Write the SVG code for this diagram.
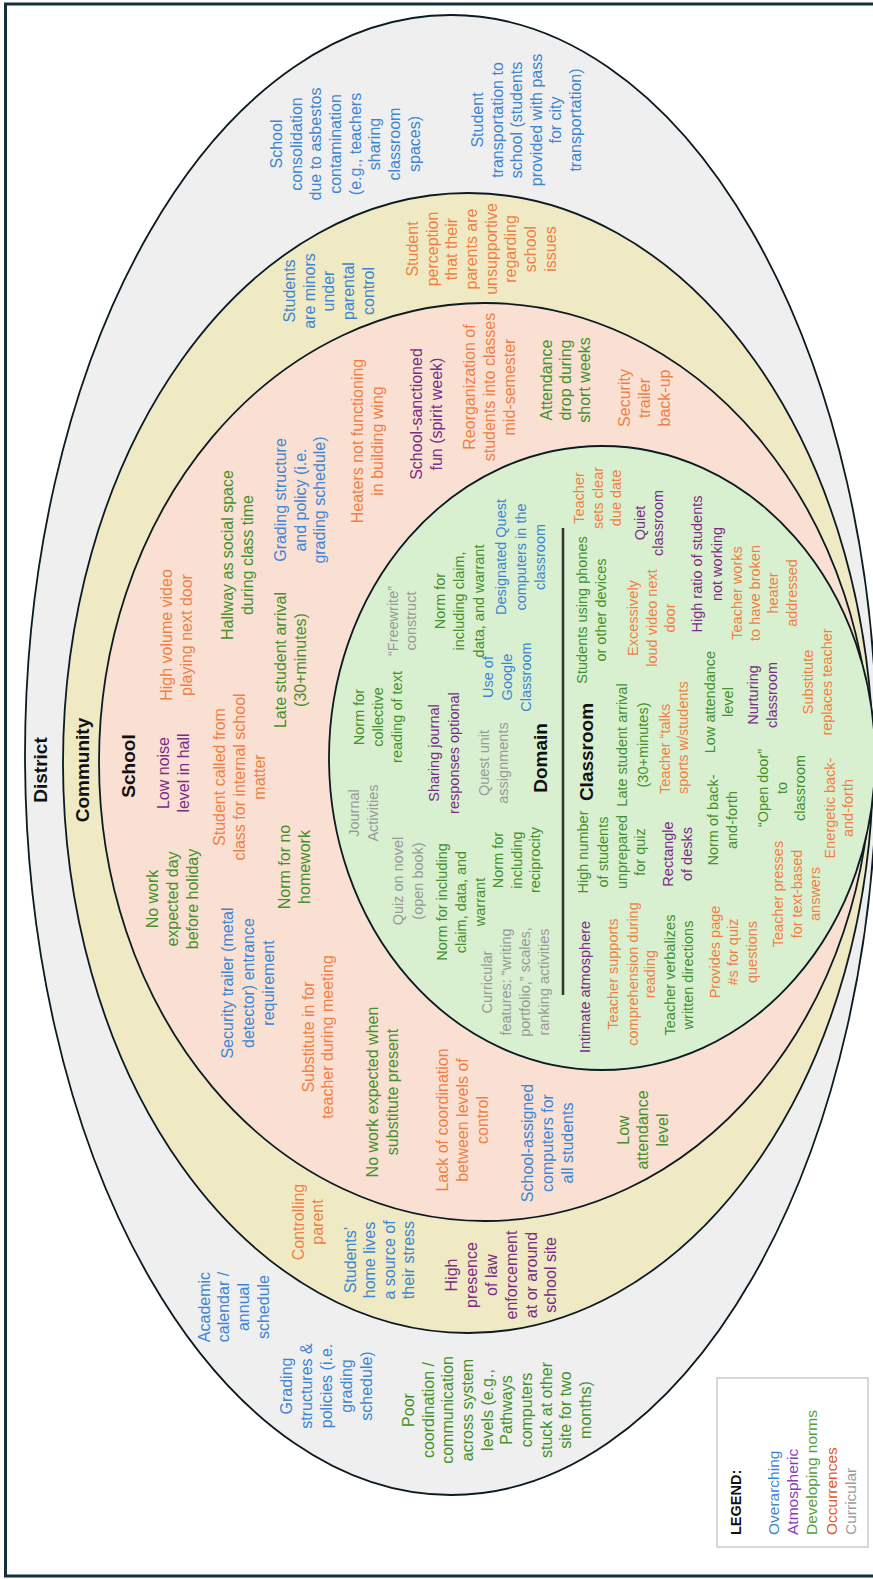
<svg xmlns="http://www.w3.org/2000/svg" width="873" height="1579" viewBox="0 0 873 1579">
<style>
  .ring{stroke:#0c1a22;stroke-width:1.8}
  .t{font-family:"Liberation Sans",Arial,sans-serif;font-size:16px;text-anchor:middle}
  .s{font-family:"Liberation Sans",Arial,sans-serif;font-size:14.5px;text-anchor:middle}
  .h{font-family:"Liberation Sans",Arial,sans-serif;font-size:19px;font-weight:bold;fill:#111;text-anchor:middle}
  .ov{fill:#3d86d3}
  .at{fill:#7a2d86}
  .dn{fill:#44912c}
  .oc{fill:#f07f45}
  .cu{fill:#999999}
  .lg{font-family:"Liberation Sans",Arial,sans-serif;font-size:15.5px;text-anchor:start}
</style>
<rect x="0" y="0" width="873" height="1579" fill="#ffffff"/>

<!-- nested levels: district, community, school, classroom/domain -->
<g id="rings">
  <ellipse id="ring-district" class="ring" cx="451" cy="755" rx="426" ry="740" fill="#efefef"/>
  <ellipse id="ring-community" class="ring" cx="468" cy="763" rx="405" ry="570" fill="#efeac4"/>
  <ellipse id="ring-school" class="ring" cx="485" cy="762" rx="386" ry="459" fill="#fae0d2"/>
  <ellipse id="ring-inner" class="ring" cx="602" cy="758" rx="273" ry="312" fill="#d9f0d0"/>
  <line id="divider" x1="563" y1="528" x2="563" y2="995" stroke="#333" stroke-width="2.5"/>
</g>

<!-- frame -->
<path d="M880 4 H5.5 V1576 H880" fill="none" stroke="#15303b" stroke-width="3"/>

<!-- legend box -->
<rect id="legend-box" x="717" y="1378" width="151" height="169" fill="#ffffff" stroke="#c4c4c4" stroke-width="1.3"/>

<!-- all labels are set sideways, reading upward -->
<g transform="translate(0 1579) rotate(-90)">
  <g id="headings">
    <text class="h" x="809" y="47">District</text>
    <text class="h" x="809" y="89">Community</text>
    <text class="h" x="813" y="135">School</text>
    <text class="h" x="821" y="547">Domain</text>
    <text class="h" x="827" y="593">Classroom</text>
  </g>

  <!-- district level -->
  <g id="n-consolidation"><text class="t ov"><tspan x="1435" y="282">School</tspan><tspan x="1435" y="302">consolidation</tspan><tspan x="1435" y="321">due to asbestos</tspan><tspan x="1435" y="341">contamination</tspan><tspan x="1435" y="361">(e.g., teachers</tspan><tspan x="1435" y="380">sharing</tspan><tspan x="1435" y="400">classroom</tspan><tspan x="1435" y="420">spaces)</tspan></text></g>
  <g id="n-transportation"><text class="t ov"><tspan x="1459" y="483">Student</tspan><tspan x="1459" y="503">transportation to</tspan><tspan x="1459" y="522">school (students</tspan><tspan x="1459" y="542">provided with pass</tspan><tspan x="1459" y="561">for city</tspan><tspan x="1459" y="581">transportation)</tspan></text></g>
  <g id="n-calendar"><text class="t ov"><tspan x="272" y="210">Academic</tspan><tspan x="272" y="229">calendar /</tspan><tspan x="272" y="249">annual</tspan><tspan x="272" y="269">schedule</tspan></text></g>
  <g id="n-grading-district"><text class="t ov"><tspan x="193" y="292">Grading</tspan><tspan x="193" y="312">structures &amp;</tspan><tspan x="193" y="332">policies (i.e.</tspan><tspan x="193" y="352">grading</tspan><tspan x="193" y="372">schedule)</tspan></text></g>
  <g id="n-poor-coordination"><text class="t dn"><tspan x="169" y="414">Poor</tspan><tspan x="169" y="434">coordination /</tspan><tspan x="169" y="453">communication</tspan><tspan x="169" y="473">across system</tspan><tspan x="169" y="493">levels (e.g.,</tspan><tspan x="169" y="512">Pathways</tspan><tspan x="169" y="532">computers</tspan><tspan x="169" y="552">stuck at other</tspan><tspan x="169" y="571">site for two</tspan><tspan x="169" y="591">months)</tspan></text></g>

  <!-- community level -->
  <g id="n-minors"><text class="t ov"><tspan x="1288" y="295">Students</tspan><tspan x="1288" y="315">are minors</tspan><tspan x="1288" y="334">under</tspan><tspan x="1288" y="354">parental</tspan><tspan x="1288" y="374">control</tspan></text></g>
  <g id="n-perception"><text class="t oc"><tspan x="1330" y="418">Student</tspan><tspan x="1330" y="438">perception</tspan><tspan x="1330" y="457">that their</tspan><tspan x="1330" y="477">parents are</tspan><tspan x="1330" y="497">unsupportive</tspan><tspan x="1330" y="516">regarding</tspan><tspan x="1330" y="536">school</tspan><tspan x="1330" y="556">issues</tspan></text></g>
  <g id="n-controlling"><text class="t oc"><tspan x="357" y="304">Controlling</tspan><tspan x="357" y="323">parent</tspan></text></g>
  <g id="n-home"><text class="t ov"><tspan x="319" y="356">Students’</tspan><tspan x="319" y="375">home lives</tspan><tspan x="319" y="395">a source of</tspan><tspan x="319" y="414">their stress</tspan></text></g>
  <g id="n-law"><text class="t at"><tspan x="304" y="457">High</tspan><tspan x="304" y="477">presence</tspan><tspan x="304" y="497">of law</tspan><tspan x="304" y="517">enforcement</tspan><tspan x="304" y="537">at or around</tspan><tspan x="304" y="556">school site</tspan></text></g>

  <!-- school level -->
  <g id="n-low-noise"><text class="t at"><tspan x="806" y="169">Low noise</tspan><tspan x="806" y="189">level in hall</tspan></text></g>
  <g id="n-video"><text class="t oc"><tspan x="944" y="172">High volume video</tspan><tspan x="944" y="192">playing next door</tspan></text></g>
  <g id="n-called"><text class="t oc"><tspan x="802" y="225">Student called from</tspan><tspan x="802" y="245">class for internal school</tspan><tspan x="802" y="265">matter</tspan></text></g>
  <g id="n-holiday"><text class="t dn"><tspan x="680" y="158">No work</tspan><tspan x="680" y="178">expected day</tspan><tspan x="680" y="198">before holiday</tspan></text></g>
  <g id="n-hallway"><text class="t dn"><tspan x="1024" y="233">Hallway as social space</tspan><tspan x="1024" y="253">during class time</tspan></text></g>
  <g id="n-late-school"><text class="t dn"><tspan x="919" y="286">Late student arrival</tspan><tspan x="919" y="306">(30+minutes)</tspan></text></g>
  <g id="n-grading-school"><text class="t ov"><tspan x="1079" y="286">Grading structure</tspan><tspan x="1079" y="306">and policy (i.e.</tspan><tspan x="1079" y="325">grading schedule)</tspan></text></g>
  <g id="n-heaters"><text class="t oc"><tspan x="1138" y="363">Heaters not functioning</tspan><tspan x="1138" y="383">in building wing</tspan></text></g>
  <g id="n-spirit"><text class="t at"><tspan x="1165" y="422">School-sanctioned</tspan><tspan x="1165" y="442">fun (spirit week)</tspan></text></g>
  <g id="n-reorg"><text class="t oc"><tspan x="1192" y="475">Reorganization of</tspan><tspan x="1192" y="495">students into classes</tspan><tspan x="1192" y="515">mid-semester</tspan></text></g>
  <g id="n-attendance-drop"><text class="t dn"><tspan x="1199" y="552">Attendance</tspan><tspan x="1199" y="571">drop during</tspan><tspan x="1199" y="590">short weeks</tspan></text></g>
  <g id="n-trailer-backup"><text class="t oc"><tspan x="1181" y="630">Security</tspan><tspan x="1181" y="650">trailer</tspan><tspan x="1181" y="670">back-up</tspan></text></g>
  <g id="n-trailer"><text class="t ov"><tspan x="596" y="233">Security trailer (metal</tspan><tspan x="596" y="254">detector) entrance</tspan><tspan x="596" y="274">requirement</tspan></text></g>
  <g id="n-homework"><text class="t dn"><tspan x="712" y="290">Norm for no</tspan><tspan x="712" y="310">homework</tspan></text></g>
  <g id="n-substitute-meeting"><text class="t oc"><tspan x="542" y="314">Substitute in for</tspan><tspan x="542" y="333">teacher during meeting</tspan></text></g>
  <g id="n-no-work-sub"><text class="t dn"><tspan x="487" y="378">No work expected when</tspan><tspan x="487" y="398">substitute present</tspan></text></g>
  <g id="n-lack"><text class="t oc"><tspan x="459" y="448">Lack of coordination</tspan><tspan x="459" y="468">between levels of</tspan><tspan x="459" y="488">control</tspan></text></g>
  <g id="n-computers"><text class="t ov"><tspan x="436" y="533">School-assigned</tspan><tspan x="436" y="553">computers for</tspan><tspan x="436" y="573">all students</tspan></text></g>
  <g id="n-low-attendance-school"><text class="t dn"><tspan x="449" y="629">Low</tspan><tspan x="449" y="648">attendance</tspan><tspan x="449" y="668">level</tspan></text></g>

  <!-- domain -->
  <g id="n-journal"><text class="s cu"><tspan x="766" y="359">Journal</tspan><tspan x="766" y="378">Activities</tspan></text></g>
  <g id="n-collective"><text class="s dn"><tspan x="862" y="364">Norm for</tspan><tspan x="862" y="383">collective</tspan><tspan x="862" y="402">reading of text</tspan></text></g>
  <g id="n-freewrite"><text class="s cu"><tspan x="958" y="398">“Freewrite”</tspan><tspan x="958" y="416">construct</tspan></text></g>
  <g id="n-claim-a"><text class="s dn"><tspan x="978" y="445">Norm for</tspan><tspan x="978" y="464">including claim,</tspan><tspan x="978" y="484">data, and warrant</tspan></text></g>
  <g id="n-quest-computers"><text class="s ov"><tspan x="1022" y="506">Designated Quest</tspan><tspan x="1022" y="526">computers in the</tspan><tspan x="1022" y="545">classroom</tspan></text></g>
  <g id="n-google"><text class="s ov"><tspan x="902" y="493">Use of</tspan><tspan x="902" y="512">Google</tspan><tspan x="902" y="531">Classroom</tspan></text></g>
  <g id="n-sharing"><text class="s at"><tspan x="826" y="439">Sharing journal</tspan><tspan x="826" y="459">responses optional</tspan></text></g>
  <g id="n-quest-unit"><text class="s cu"><tspan x="816" y="489">Quest unit</tspan><tspan x="816" y="508">assignments</tspan></text></g>
  <g id="n-quiz-novel"><text class="s cu"><tspan x="698" y="403">Quiz on novel</tspan><tspan x="698" y="423">(open book)</tspan></text></g>
  <g id="n-claim-b"><text class="s dn"><tspan x="677" y="447">Norm for including</tspan><tspan x="677" y="466">claim, data, and</tspan><tspan x="677" y="485">warrant</tspan></text></g>
  <g id="n-reciprocity"><text class="s dn"><tspan x="719" y="503">Norm for</tspan><tspan x="719" y="522">including</tspan><tspan x="719" y="540">reciprocity</tspan></text></g>
  <g id="n-curricular"><text class="s cu"><tspan x="597" y="492">Curricular</tspan><tspan x="597" y="511">features: “writing</tspan><tspan x="597" y="530">portfolio,” scales,</tspan><tspan x="597" y="549">ranking activities</tspan></text></g>

  <!-- classroom -->
  <g id="n-phones"><text class="s dn"><tspan x="969" y="587">Students using phones</tspan><tspan x="969" y="606">or other devices</tspan></text></g>
  <g id="n-due-date"><text class="s oc"><tspan x="1081" y="584">Teacher</tspan><tspan x="1081" y="603">sets clear</tspan><tspan x="1081" y="621">due date</tspan></text></g>
  <g id="n-quiet"><text class="s at"><tspan x="1056" y="645">Quiet</tspan><tspan x="1056" y="663">classroom</tspan></text></g>
  <g id="n-loud-video"><text class="s oc"><tspan x="961" y="638">Excessively</tspan><tspan x="961" y="657">loud video next</tspan><tspan x="961" y="675">door</tspan></text></g>
  <g id="n-ratio"><text class="s at"><tspan x="1015" y="702">High ratio of students</tspan><tspan x="1015" y="722">not working</tspan></text></g>
  <g id="n-heater-fix"><text class="s oc"><tspan x="986" y="742">Teacher works</tspan><tspan x="986" y="760">to have broken</tspan><tspan x="986" y="778">heater</tspan><tspan x="986" y="797">addressed</tspan></text></g>
  <g id="n-sub-replaces"><text class="s oc"><tspan x="897" y="813">Substitute</tspan><tspan x="897" y="832">replaces teacher</tspan></text></g>
  <g id="n-late-class"><text class="s dn"><tspan x="834" y="627">Late student arrival</tspan><tspan x="834" y="648">(30+minutes)</tspan></text></g>
  <g id="n-talks"><text class="s oc" style="text-anchor:start"><tspan x="785" y="670">Teacher “talks</tspan><tspan x="785" y="688">sports w/students</tspan></text></g>
  <g id="n-low-attendance-class"><text class="s dn"><tspan x="877" y="715">Low attendance</tspan><tspan x="877" y="733">level</tspan></text></g>
  <g id="n-nurturing"><text class="s at"><tspan x="884" y="758">Nurturing</tspan><tspan x="884" y="777">classroom</tspan></text></g>
  <g id="n-unprepared"><text class="s dn"><tspan x="727" y="588">High number</tspan><tspan x="727" y="608">of students</tspan><tspan x="727" y="627">unprepared</tspan><tspan x="727" y="645">for quiz</tspan></text></g>
  <g id="n-rectangle"><text class="s at"><tspan x="725" y="673">Rectangle</tspan><tspan x="725" y="692">of desks</tspan></text></g>
  <g id="n-back-forth"><text class="s dn"><tspan x="759" y="718">Norm of back-</tspan><tspan x="759" y="737">and-forth</tspan></text></g>
  <g id="n-open-door"><text class="s dn"><tspan x="791" y="768">“Open door”</tspan><tspan x="791" y="787">to</tspan><tspan x="791" y="805">classroom</tspan></text></g>
  <g id="n-energetic"><text class="s oc"><tspan x="771" y="835">Energetic back-</tspan><tspan x="771" y="853">and-forth</tspan></text></g>
  <g id="n-presses"><text class="s oc"><tspan x="685" y="783">Teacher presses</tspan><tspan x="685" y="802">for text-based</tspan><tspan x="685" y="820">answers</tspan></text></g>
  <g id="n-page"><text class="s oc"><tspan x="627" y="720">Provides page</tspan><tspan x="627" y="738">#s for quiz</tspan><tspan x="627" y="757">questions</tspan></text></g>
  <g id="n-verbalizes"><text class="s dn"><tspan x="604" y="675">Teacher verbalizes</tspan><tspan x="604" y="693">written directions</tspan></text></g>
  <g id="n-comprehension"><text class="s oc"><tspan x="605" y="618">Teacher supports</tspan><tspan x="605" y="638">comprehension during</tspan><tspan x="605" y="655">reading</tspan></text></g>
  <g id="n-intimate"><text class="s at"><tspan x="592" y="590">Intimate atmosphere</tspan></text></g>

  <!-- legend -->
  <g id="legend">
    <text class="lg" x="44" y="741" style="font-weight:bold;font-size:14.5px;fill:#111">LEGEND:</text>
    <text class="lg" x="44" y="779" fill="#3d86d3">Overarching</text>
    <text class="lg" x="44" y="798" fill="#8a3bb8">Atmospheric</text>
    <text class="lg" x="44" y="817" fill="#55a03a">Developing norms</text>
    <text class="lg" x="44" y="837" fill="#e0582c">Occurrences</text>
    <text class="lg" x="44" y="856" fill="#9a9a9a">Curricular</text>
  </g>
</g>
</svg>
